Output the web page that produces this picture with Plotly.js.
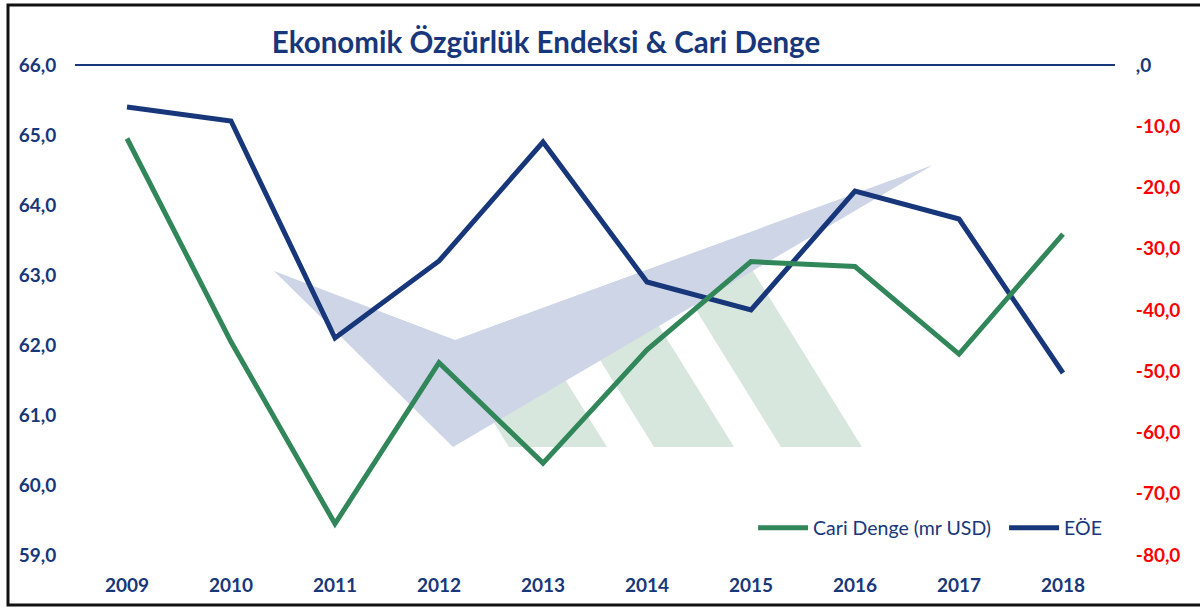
<!DOCTYPE html>
<html>
<head>
<meta charset="utf-8">
<script src="https://cdn.plot.ly/plotly-3.0.1.min.js"></script>
<style>html,body{margin:0;padding:0;background:#fff;}#chart{width:1200px;height:608px;}</style>
</head>
<body>
<div id="chart"></div>
<script>
// ---- data ----
var years = ['2009','2010','2011','2012','2013','2014','2015','2016','2017','2018'];
var cariDenge = [-12.0, -45.2, -74.9, -48.6, -65.0, -46.5, -32.1, -32.9, -47.2, -27.6];
var eoe = [65.4, 65.2, 62.1, 63.2, 64.9, 62.9, 62.5, 64.2, 63.8, 61.6];
var rightTickVals = [0, -10, -20, -30, -40, -50, -60, -70, -80];
var rightTickText = [',0', '-10,0', '-20,0', '-30,0', '-40,0', '-50,0', '-60,0', '-70,0', '-80,0'];

var BLUE = '#17377a';
var GREEN = '#31865a';
var RED = '#ff0000';
var FONT = 'Lato, "Open Sans", sans-serif';

// plot area in pixels (for decorative shapes only)
var L = 75, R = 1115, T = 65, B = 555;
function px(x){ return (x - L) / (R - L); }
function py(y){ return (B - y) / (B - T); }
function path(pts){
  return pts.map(function(p, i){ return (i ? 'L' : 'M') + px(p[0]).toFixed(4) + ',' + py(p[1]).toFixed(4); }).join(' ') + ' Z';
}

var traces = [
  {x: years, y: cariDenge, name: 'Cari Denge (mr USD)', type: 'scatter', mode: 'lines',
   yaxis: 'y2', line: {color: GREEN, width: 5}},
  {x: years, y: eoe, name: 'EÖE', type: 'scatter', mode: 'lines',
   yaxis: 'y', line: {color: BLUE, width: 5}}
];

var BAR = '#d8e7de', CHEV = '#cdd5e6';
var shapes = [
  // watermark green bars
  {type: 'path', xref: 'paper', yref: 'paper', layer: 'below', line: {width: 0}, fillcolor: BAR,
   path: path([[509,447],[607,447],[566,381],[468,381]])},
  {type: 'path', xref: 'paper', yref: 'paper', layer: 'below', line: {width: 0}, fillcolor: BAR,
   path: path([[654,447],[734,447],[659,326],[579,326]])},
  {type: 'path', xref: 'paper', yref: 'paper', layer: 'below', line: {width: 0}, fillcolor: BAR,
   path: path([[781,447],[862,447],[753,271],[672,271]])},
  // watermark chevron
  {type: 'path', xref: 'paper', yref: 'paper', layer: 'below', line: {width: 0}, fillcolor: CHEV,
   path: path([[274,271],[455,340],[933,165],[453,447]])},
  // top line
  {type: 'line', xref: 'paper', yref: 'paper', x0: 0, x1: 1, y0: 1, y1: 1, line: {color: BLUE, width: 2}},
  // outer frame
  {type: 'rect', xref: 'paper', yref: 'paper', x0: px(8), x1: px(1210), y0: py(605), y1: py(5),
   line: {color: '#111', width: 3}, fillcolor: 'rgba(0,0,0,0)'}
];

var layout = {
  width: 1200, height: 608,
  margin: {l: L, r: 1200 - R, t: T, b: 608 - B, pad: 0, autoexpand: false},
  paper_bgcolor: '#ffffff', plot_bgcolor: 'rgba(0,0,0,0)',
  separators: ',.',
  font: {family: FONT, color: BLUE},
  title: {text: '<b>Ekonomik Özgürlük Endeksi & Cari Denge</b>', x: 0.455, xanchor: 'center', y: 0.93, yanchor: 'middle',
          font: {family: FONT, size: 29.5, color: BLUE}},
  showlegend: true,
  legend: {orientation: 'h', x: 0.652, xanchor: 'left', y: 0.055, yanchor: 'middle',
           font: {family: FONT, size: 19.5, color: BLUE},
           bgcolor: 'rgba(0,0,0,0)', traceorder: 'normal', itemwidth: 50,
           entrywidth: 186, entrywidthmode: 'pixels'},
  xaxis: {type: 'category', range: [-0.5, 9.5], showgrid: false, zeroline: false, showline: false,
          ticks: 'outside', ticklen: 13, tickcolor: 'rgba(0,0,0,0)',
          tickfont: {family: FONT, size: 19, color: BLUE}, tickprefix: '<b>', ticksuffix: '</b>'},
  yaxis: {range: [59, 66], dtick: 1, tick0: 59, tickformat: '.1f', showgrid: false, zeroline: false, showline: false,
          ticks: 'outside', ticklen: 14, tickcolor: 'rgba(0,0,0,0)',
          tickfont: {family: FONT, size: 19, color: BLUE}, tickprefix: '<b>', ticksuffix: '</b>'},
  yaxis2: {overlaying: 'y', side: 'right', range: [-80, 0], tickmode: 'array', tickvals: rightTickVals,
           ticktext: rightTickText.map(function(t, i){ return '<b><span style="color:' + (i === 0 ? BLUE : RED) + '">' + t + '</span></b>'; }),
           showgrid: false, zeroline: false, showline: false,
           ticks: 'outside', ticklen: 16, tickcolor: 'rgba(0,0,0,0)',
           tickfont: {family: FONT, size: 19, color: RED}},
  shapes: shapes
};

Plotly.newPlot('chart', traces, layout, {displayModeBar: false, staticPlot: true});
</script>
</body>
</html>
